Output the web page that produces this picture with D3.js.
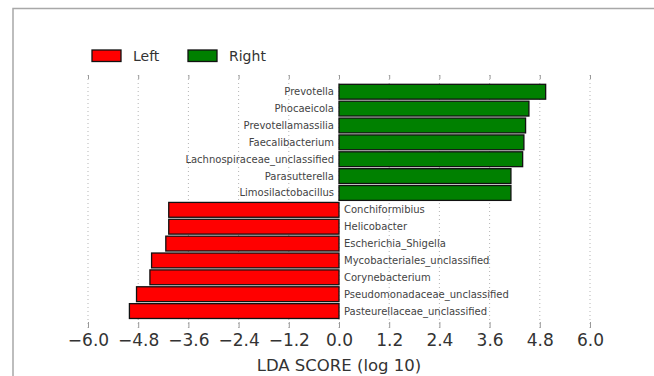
<!DOCTYPE html>
<html>
<head>
<meta charset="utf-8">
<script src="https://cdn.jsdelivr.net/npm/d3@7"></script>
<style>
  html, body { margin: 0; padding: 0; width: 654px; height: 376px; background: #fff; overflow: hidden; }
  ::-webkit-scrollbar { display: none; }
  svg { display: block; }
  text { font-family: "DejaVu Sans", sans-serif; }
</style>
</head>
<body>
<svg id="chart"></svg>
<script>
// taxa, top to bottom
const taxa = ["Prevotella", "Phocaeicola", "Prevotellamassilia", "Faecalibacterium",
    "Lachnospiraceae_unclassified", "Parasutterella", "Limosilactobacillus",
    "Conchiformibius", "Helicobacter", "Escherichia_Shigella",
    "Mycobacteriales_unclassified", "Corynebacterium",
    "Pseudomonadaceae_unclassified", "Pasteurellaceae_unclassified"];
const ldaScores = [4.94, 4.54, 4.46, 4.42, 4.39, 4.11, 4.11,
    -4.07, -4.07, -4.14, -4.48, -4.52, -4.84, -5.01];
const groupNames = ["Left", "Right"];
const groupColors = ["#ff0000", "#008000"];
const tickValues = [-6.0, -4.8, -3.6, -2.4, -1.2, 0.0, 1.2, 2.4, 3.6, 4.8, 6.0];

const width = 654, height = 376;
const svg = d3.select("#chart").attr("width", width).attr("height", height);

const data = taxa.map((t, i) => ({
    name: t, value: ldaScores[i], group: ldaScores[i] < 0 ? "Left" : "Right"
}));

const x = d3.scaleLinear().domain([-6, 6]).range([88, 590]);
const y = d3.scaleBand().domain(taxa).range([83.3, 319.5]).paddingInner(0.12).paddingOuter(0.06);
const color = d3.scaleOrdinal().domain(groupNames).range(groupColors);

// frame (cut off at right and bottom)
svg.append("path")
    .attr("d", `M13,${height} L13,8.5 L${width},8.5`)
    .attr("fill", "none")
    .attr("stroke", "#a8a8a8")
    .attr("stroke-width", 1.5);

// dotted grid
const grid = svg.append("g");
grid.selectAll("line")
    .data(tickValues)
    .enter()
    .append("line")
        .attr("x1", d => x(d)).attr("x2", d => x(d))
        .attr("y1", 75).attr("y2", 328)
        .attr("stroke", "#b5b5b5")
        .attr("stroke-width", 1)
        .attr("stroke-dasharray", "1,3");

// top ticks
svg.append("g")
    .attr("transform", "translate(0,79)")
    .call(d3.axisTop(x).tickValues(tickValues).tickSize(4).tickFormat(""))
    .call(g => g.select(".domain").remove())
    .call(g => g.selectAll(".tick line").attr("stroke", "#999"));

// bottom axis
const xAxis = svg.append("g")
    .attr("transform", "translate(0,322)")
    .call(d3.axisBottom(x).tickValues(tickValues).tickSize(6).tickPadding(6)
        .tickFormat(d => d3.format(".1f")(d).replace("-", "\u2212")));
xAxis.select(".domain").remove();
xAxis.selectAll(".tick line").attr("stroke", "#999");
xAxis.selectAll(".tick text")
    .attr("font-size", 17)
    .attr("fill", "#333");

svg.append("text")
    .attr("x", x(0))
    .attr("y", 371)
    .attr("text-anchor", "middle")
    .attr("font-size", 16.5)
    .attr("fill", "#333")
    .text("LDA SCORE (log 10)");

// bars
svg.append("g").selectAll("rect")
    .data(data)
    .enter()
    .append("rect")
        .attr("x", d => x(Math.min(0, d.value)))
        .attr("y", d => y(d.name))
        .attr("width", d => Math.abs(x(d.value) - x(0)))
        .attr("height", y.bandwidth())
        .attr("fill", d => color(d.group))
        .attr("stroke", "#111")
        .attr("stroke-width", 1.3);

// labels on the opposite side of zero
svg.append("g").selectAll("text")
    .data(data)
    .enter()
    .append("text")
        .attr("x", d => d.value < 0 ? x(0) + 5 : x(0) - 5)
        .attr("y", d => y(d.name) + y.bandwidth() / 2)
        .attr("dy", "0.35em")
        .attr("text-anchor", d => d.value < 0 ? "start" : "end")
        .attr("font-size", 10)
        .attr("fill", "#444")
        .text(d => d.name);

// legend
const legend = svg.append("g").attr("transform", "translate(92,50)");
const item = legend.selectAll("g")
    .data(groupNames)
    .enter()
    .append("g")
        .attr("transform", (d, i) => `translate(${i * 96},0)`);
item.append("rect")
    .attr("width", 29).attr("height", 11.5)
    .attr("fill", d => color(d))
    .attr("stroke", "#111")
    .attr("stroke-width", 1.3);
item.append("text")
    .attr("x", 41)
    .attr("y", 6)
    .attr("dy", "0.35em")
    .attr("font-size", 14)
    .attr("fill", "#333")
    .text(d => d);
</script>
</body>
</html>
